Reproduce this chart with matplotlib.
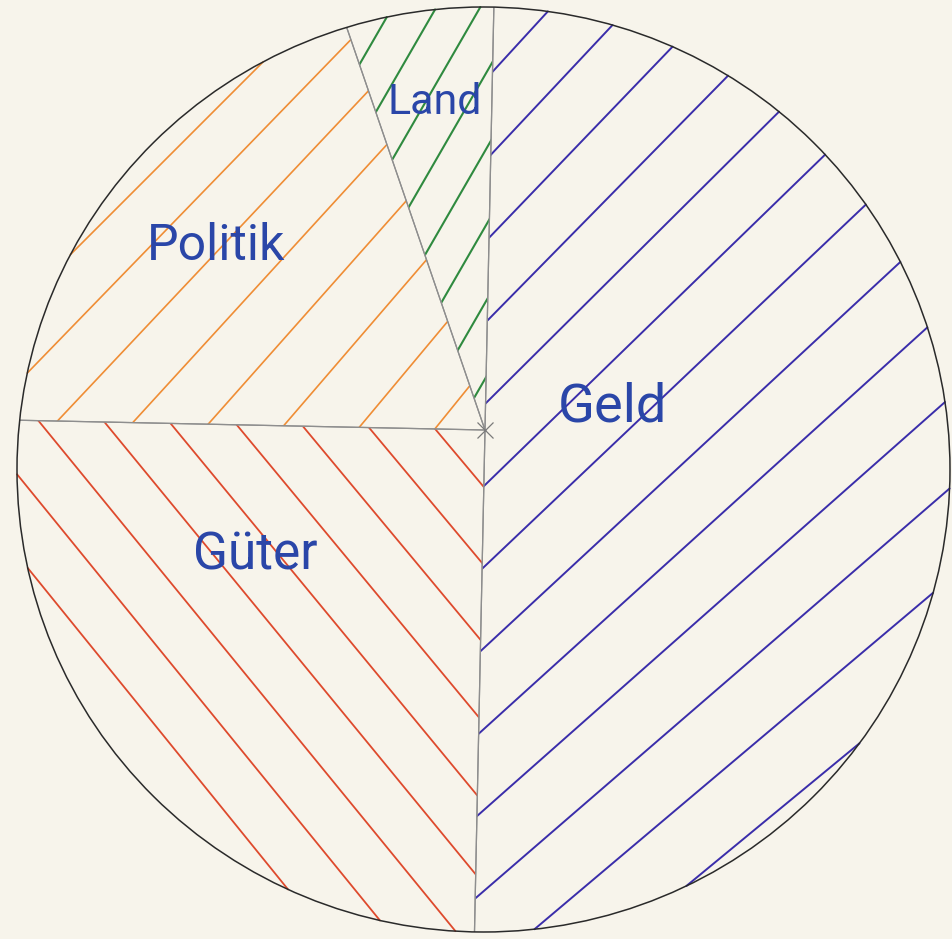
import numpy as np
import matplotlib.pyplot as plt
from matplotlib.patches import Ellipse
from matplotlib.lines import Line2D

# shares as drawn on the sheet (percent, clockwise from the top)
labels = ["Geld", "Güter", "Politik", "Land"]
shares = [50.0, 25.0, 19.4, 5.6]
hatch_colors = ["#3a2daa", "#de4a2d", "#ef8d35", "#2f8a3f"]
ink = "#2a46a8"

W, H = 952, 939
BG = "#f7f4eb"

# sheet geometry in pixels, y counted from the bottom
centre = (485, H - 430)          # where the spokes meet
rim_c = (483.5, H - 469.5)       # the circle itself sits a bit lower
rim_w, rim_h = 933, 925

# hatching per wedge: anchor axis, first offset, step, count, angle start/end (deg), width
hatching = {
    "Geld":    ("v", 80, 81, 13, 47.5, 39.5, 1.4),
    "Güter":   ("h", -84, 65, 9, -51.0, -50.0, 1.3),
    "Politik": ("h", -105, 77, 8, 45.0, 51.0, 1.2),
    "Land":    ("v", -153, 76, 8, 60.0, 60.0, 1.5),
}
# label anchors (pixels from the top-left, like the scan)
label_pos = {"Geld": (612, 407), "Güter": (255, 555), "Politik": (216, 246), "Land": (435, 102)}
label_size = {"Geld": 39, "Güter": 37, "Politik": 36, "Land": 31}


def chord(p0, d):
    # part of the line p0 + t*d that lies inside the rim
    a, b = rim_w / 2, rim_h / 2
    px, py = (p0[0] - rim_c[0]) / a, (p0[1] - rim_c[1]) / b
    dx, dy = d[0] / a, d[1] / b
    A = dx * dx + dy * dy
    B = 2 * (px * dx + py * dy)
    C = px * px + py * py - 1
    disc = B * B - 4 * A * C
    if disc <= 0:
        return None
    s = np.sqrt(disc)
    t = np.array([(-B - s) / (2 * A), (-B + s) / (2 * A)])
    return p0[0] + t * d[0], p0[1] + t * d[1]


fig = plt.figure(figsize=(W / 100, H / 100), dpi=100, facecolor=BG)
ax = fig.add_axes([0, 0, 1, 1])
ax.set_facecolor(BG)

wedges, _ = ax.pie(shares, startangle=88.8, counterclock=False, center=centre, radius=800,
                   wedgeprops=dict(facecolor="none", edgecolor="#8e8e8e", linewidth=0.9, zorder=3))
ax.set_xlim(0, W)
ax.set_ylim(0, H)
ax.set_aspect("equal")
ax.axis("off")

rim = Ellipse(rim_c, rim_w, rim_h, facecolor="none", edgecolor="#2a2a2a", linewidth=1.1, zorder=5)
ax.add_patch(rim)

for w, name, col in zip(wedges, labels, hatch_colors):
    w.set_clip_on(True)
    w.set_clip_path(rim)
    axis, first, step, n, a0, a1, lw = hatching[name]
    for i, ang in enumerate(np.linspace(a0, a1, n)):
        off = first + i * step
        p0 = (centre[0], H - off) if axis == "v" else (off, centre[1])
        th = np.radians(ang)
        seg = chord(p0, (np.cos(th), np.sin(th)))
        if seg is None:
            continue
        ln = Line2D(seg[0], seg[1], color=col, lw=lw, solid_capstyle="round", zorder=2)
        ax.add_line(ln)
        ln.set_clip_path(w)

    x, y = label_pos[name]
    ax.text(x, H - y, name, color=ink, fontsize=label_size[name], ha="center", va="center",
            family=["Roboto", "DejaVu Sans"], fontweight="normal", zorder=6)

# pencil cross at the centre
ax.plot(*centre, marker="x", ms=11, mew=0.9, color="#7a7a7a", zorder=4)

fig.savefig("out.png", dpi=100, facecolor=BG)
